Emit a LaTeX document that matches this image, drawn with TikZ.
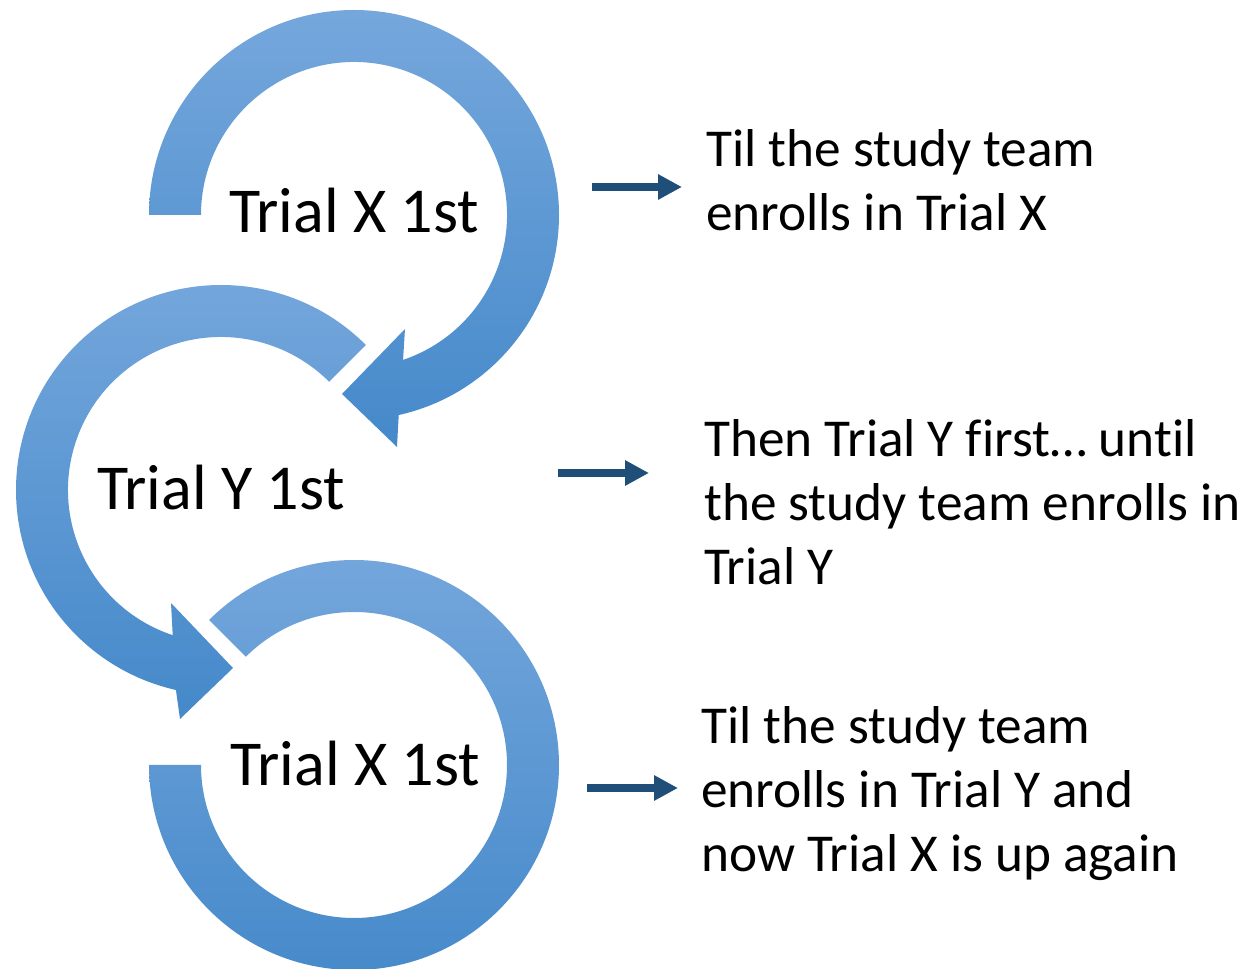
\documentclass[tikz,border=0pt]{standalone}
\usepackage{fontspec}
\setmainfont{Carlito}[Ligatures={NoCommon}]
\usetikzlibrary{arrows.meta}
\definecolor{ringtop}{RGB}{117,167,220}
\definecolor{ringmid}{RGB}{91,156,218}
\definecolor{ringbot}{RGB}{69,137,202}
\definecolor{darrow}{RGB}{31,78,121}
\tikzset{
  ring/.style={top color=ringtop, middle color=ringmid, bottom color=ringbot, draw=none},
  bigtext/.style={anchor=base west, inner sep=0pt, font=\fontsize{64}{76}\selectfont},
  desctext/.style={anchor=base west, inner sep=0pt, font=\fontsize{53.3}{64}\selectfont},
  pointer/.style={draw=darrow, line width=7.5pt, -{Triangle[length=24pt,width=24pt]}}
}
\begin{document}
\begin{tikzpicture}[x=1pt,y=1pt]
\useasboundingbox (0,0) rectangle (1251,969);
% ring 1
\shade[ring, shift={(354,754)}] (180:205) arc[start angle=180, end angle=-77.4, radius=205]
  -- (43,-232) -- (-12,-179) -- (51,-114) -- (-71.3:153)
  arc[start angle=-71.3, end angle=180, radius=153] -- cycle;
% ring 2
\shade[ring, shift={(221,479)}] (45:205) arc[start angle=45, end angle=257.3, radius=205]
  -- (-41,-229) -- (12,-178) -- (-50,-113) -- (251.6:153)
  arc[start angle=251.6, end angle=45, radius=153] -- cycle;
% ring 3
\shade[ring, shift={(354,204)}] (135:205) arc[start angle=135, end angle=-180, radius=205]
  -- (180:153) arc[start angle=-180, end angle=135, radius=153] -- cycle;
% ring labels
\node[bigtext] (l1) at (229,736) {Trial X 1st};
\node[bigtext] (l2) at (97,459) {Trial Y 1st};
\node[bigtext] (l3) at (230,183) {Trial X 1st};
% pointers
\coordinate (p1s) at (592,782); \coordinate (p1e) at (682,782);
\coordinate (p2s) at (558,496); \coordinate (p2e) at (649,496);
\coordinate (p3s) at (587,181); \coordinate (p3e) at (678,181);
\draw[pointer] (p1s) -- (p1e);
\draw[pointer] (p2s) -- (p2e);
\draw[pointer] (p3s) -- (p3e);
% descriptions
\node[desctext] (d1a) at (706,802) {Til the study team};
\node[desctext] (d1b) at (706,738) {enrolls in Trial X};
\node[desctext] (d2a) at (704,512) {Then Trial Y first… until};
\node[desctext] (d2b) at (704,448) {the study team enrolls in};
\node[desctext] (d2c) at (704,384) {Trial Y};
\node[desctext] (d3a) at (701,225) {Til the study team};
\node[desctext] (d3b) at (701,161) {enrolls in Trial Y and};
\node[desctext] (d3c) at (701,97) {now Trial X is up again};
\end{tikzpicture}
\end{document}
